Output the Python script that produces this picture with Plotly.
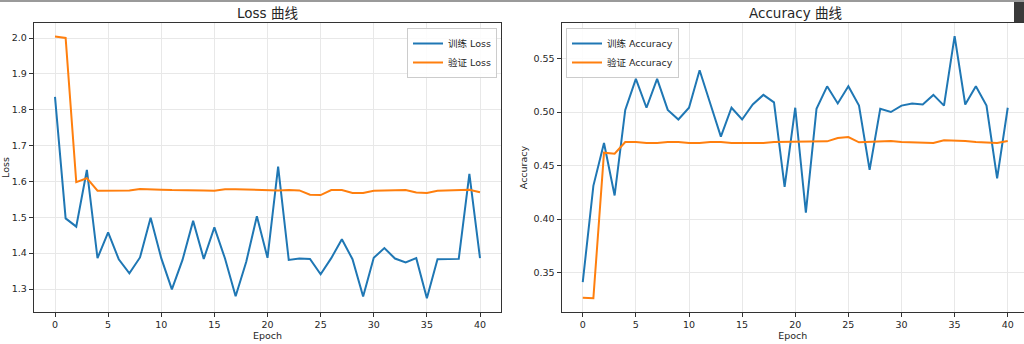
import plotly.graph_objects as go

epochs = list(range(41))

train_loss = [1.836, 1.497, 1.474, 1.632, 1.386, 1.458, 1.383, 1.344, 1.388, 1.499,
              1.386, 1.299, 1.381, 1.490, 1.384, 1.472, 1.385, 1.280, 1.376, 1.503,
              1.387, 1.641, 1.381, 1.385, 1.384, 1.341, 1.386, 1.439, 1.383, 1.279,
              1.387, 1.414, 1.385, 1.374, 1.386, 1.274, 1.383, 1.384, 1.384, 1.621,
              1.386]
val_loss = [2.004, 2.000, 1.598, 1.609, 1.574, 1.574, 1.575, 1.575, 1.579, 1.579,
            1.577, 1.576, 1.576, 1.577, 1.575, 1.574, 1.578, 1.578, 1.577, 1.577,
            1.576, 1.575, 1.576, 1.575, 1.563, 1.562, 1.576, 1.576, 1.568, 1.568,
            1.574, 1.574, 1.576, 1.576, 1.569, 1.568, 1.574, 1.575, 1.577, 1.577,
            1.570]
train_acc = [0.341, 0.431, 0.471, 0.422, 0.502, 0.531, 0.504, 0.531, 0.502, 0.493,
             0.504, 0.539, 0.508, 0.477, 0.504, 0.493, 0.507, 0.516, 0.509, 0.430,
             0.504, 0.406, 0.503, 0.524, 0.508, 0.524, 0.506, 0.446, 0.503, 0.500,
             0.506, 0.508, 0.507, 0.516, 0.506, 0.571, 0.507, 0.524, 0.506, 0.438,
             0.504]
val_acc = [0.3265, 0.326, 0.462, 0.461, 0.472, 0.472, 0.471, 0.471, 0.472, 0.472,
           0.471, 0.471, 0.472, 0.472, 0.471, 0.471, 0.471, 0.471, 0.472, 0.472,
           0.472, 0.472, 0.472, 0.4726, 0.4757, 0.4766, 0.4717, 0.472, 0.4729, 0.4729,
           0.472, 0.4717, 0.4715, 0.471, 0.4735, 0.4735, 0.4729, 0.472, 0.4714, 0.471,
           0.4729]

titles = ["Loss 曲线", "Accuracy 曲线"]
loss_names = ["训练 Loss", "验证 Loss"]
acc_names = ["训练 Accuracy", "验证 Accuracy"]
x_label = "Epoch"
y_labels = ["Loss", "Accuracy"]

BLUE = "#1f77b4"
ORANGE = "#ff7f0e"
FONT = "DejaVu Sans, Noto Sans CJK SC, sans-serif"
W, H = 1024, 344

fig = go.Figure()
fig.add_trace(go.Scatter(x=epochs, y=train_loss, mode="lines", name=loss_names[0],
                         line=dict(color=BLUE, width=2), xaxis="x", yaxis="y", legend="legend"))
fig.add_trace(go.Scatter(x=epochs, y=val_loss, mode="lines", name=loss_names[1],
                         line=dict(color=ORANGE, width=2), xaxis="x", yaxis="y", legend="legend"))
fig.add_trace(go.Scatter(x=epochs, y=train_acc, mode="lines", name=acc_names[0],
                         line=dict(color=BLUE, width=2), xaxis="x2", yaxis="y2", legend="legend2"))
fig.add_trace(go.Scatter(x=epochs, y=val_acc, mode="lines", name=acc_names[1],
                         line=dict(color=ORANGE, width=2), xaxis="x2", yaxis="y2", legend="legend2"))

ydom = [1 - 311.7 / H, 1 - 23.3 / H]
ax_common = dict(showline=True, linecolor="#333333", linewidth=1, ticks="outside",
                 ticklen=4, tickcolor="#333333", showgrid=True, gridcolor="#e8e8e8",
                 gridwidth=1, zeroline=False, tickfont=dict(size=9.5, color="#262626", family=FONT),
                 automargin=False)

fig.update_layout(
    width=W, height=H, margin=dict(l=0, r=0, t=0, b=0),
    paper_bgcolor="white", plot_bgcolor="white",
    font=dict(family=FONT, size=9.5, color="#262626"),
    xaxis=dict(domain=[33.75 / W, 501.25 / W], range=[-2, 42], tickvals=list(range(0, 41, 5)),
               anchor="y", mirror=True,
               title=dict(text=x_label, font=dict(size=9.5), standoff=3), **ax_common),
    yaxis=dict(domain=ydom, range=[1.2367, 2.041], tickvals=[1.3, 1.4, 1.5, 1.6, 1.7, 1.8, 1.9, 2.0],
               tickformat=".1f", anchor="x", mirror=True,
               title=dict(text=y_labels[0], font=dict(size=9.5), standoff=4), **ax_common),
    xaxis2=dict(domain=[561.5 / W, 1.0], range=[-2, 41.53], tickvals=list(range(0, 41, 5)),
                anchor="y2", mirror=True,
                title=dict(text=x_label, font=dict(size=9.5), standoff=3), **ax_common),
    yaxis2=dict(domain=ydom, range=[0.3134, 0.5829], tickvals=[0.35, 0.40, 0.45, 0.50, 0.55],
                tickformat=".2f", anchor="x2", mirror=False,
                title=dict(text=y_labels[1], font=dict(size=9.5), standoff=4), **ax_common),
    legend=dict(x=497 / W, xanchor="right", y=1 - 28 / H, yanchor="top",
                bgcolor="rgba(255,255,255,0.85)", bordercolor="#cccccc", borderwidth=1,
                itemwidth=30, font=dict(size=9.5, family=FONT), tracegroupgap=0),
    legend2=dict(x=566 / W, xanchor="left", y=1 - 28 / H, yanchor="top",
                 bgcolor="rgba(255,255,255,0.85)", bordercolor="#cccccc", borderwidth=1,
                 itemwidth=30, font=dict(size=9.5, family=FONT), tracegroupgap=0),
    annotations=[
        dict(text=titles[0], x=(33.75 + 501.25) / 2 / W, y=1 - 13 / H, xref="paper", yref="paper",
             showarrow=False, xanchor="center", yanchor="middle", font=dict(size=13.5, color="#262626")),
        dict(text=titles[1], x=(561.5 + 1029) / 2 / W, y=1 - 13 / H, xref="paper", yref="paper",
             showarrow=False, xanchor="center", yanchor="middle", font=dict(size=13.5, color="#262626")),
    ],
    shapes=[
        dict(type="rect", xref="paper", yref="paper", x0=0, x1=1, y0=1 - 2 / H, y1=1,
             fillcolor="#9a9a9a", line=dict(width=0), layer="above"),
        dict(type="rect", xref="paper", yref="paper", x0=1014 / W, x1=1.0, y0=1 - 22 / H, y1=1 - 2 / H,
             fillcolor="#3a3a3a", line=dict(width=0), layer="above"),
    ],
)

fig.write_html("out.html")
